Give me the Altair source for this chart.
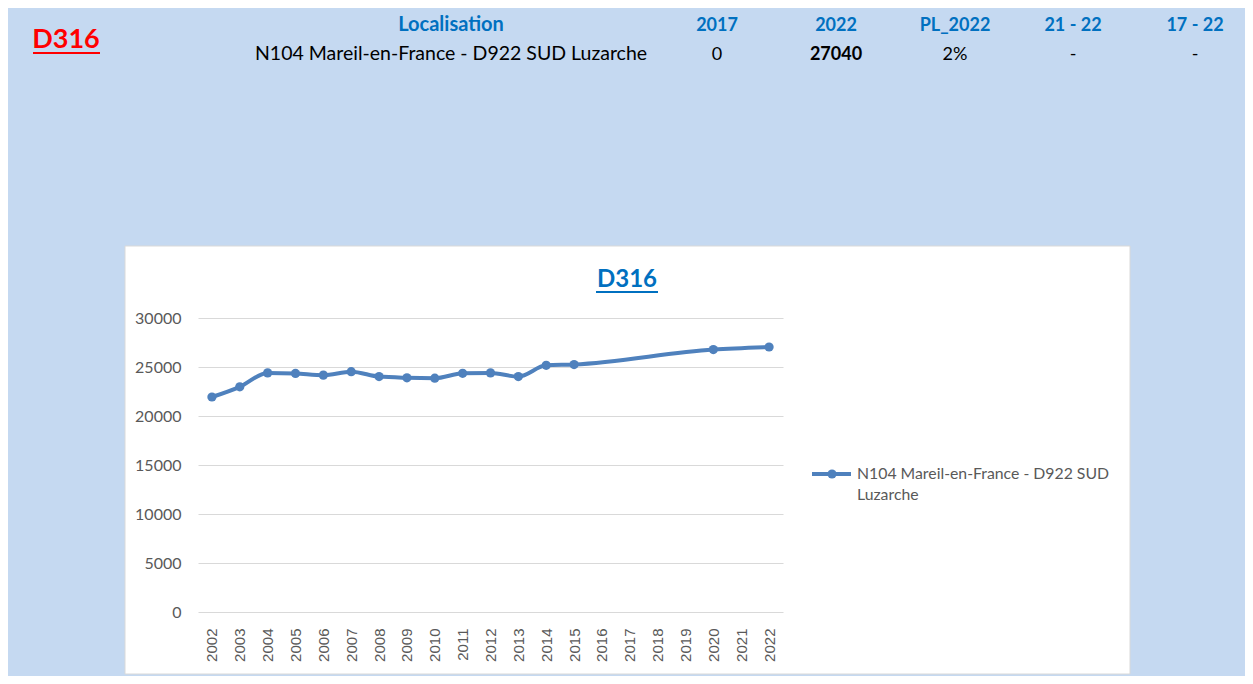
import altair as alt
import pandas as pd

# ---- data ----
years = [str(y) for y in range(2002, 2023)]
values = [21940, 22980, 24400, 24340, 24170, 24520, 24020,
          23900, 23860, 24360, 24400, 24020, 25170, 25250,
          None, None, None, None, 26780, None, 27040]
series_name = "N104 Mareil-en-France - D922 SUD Luzarche"
legend_lines = ["N104 Mareil-en-France - D922 SUD", "Luzarche"]
chart_title = "D316"
page_code = "D316"
header_labels = ["2017", "2022", "PL_2022", "21 - 22", "17 - 22"]
header_values = ["0", "27040", "2%", "-", "-"]
loc_label = "Localisation"
loc_value = series_name
y_ticks = [0, 5000, 10000, 15000, 20000, 25000, 30000]

rows = [{"year": y, "value": v, "serie": series_name}
        for y, v in zip(years, values) if v is not None]
df = pd.DataFrame(rows)

BLUE_LINE = "#4F81BD"
HEAD_BLUE = "#0070C0"
PAGE_BG = "#C5D9F1"
GRAY = "#595959"
FONT = "Lato"

x_enc = alt.X("year:O", scale=alt.Scale(domain=years, paddingOuter=0.5),
              axis=alt.Axis(title=None, labelAngle=270, labelFont="Liberation Sans",
                            labelFontSize=15, labelColor=GRAY, labelPadding=16,
                            ticks=False, domain=False, grid=False, labelAlign="right",
                            labelBaseline="middle"))
y_enc = alt.Y("value:Q", scale=alt.Scale(domain=[0, 30000], nice=False),
              axis=alt.Axis(title=None, values=y_ticks, format="d", labelFont=FONT,
                            labelFontSize=16, labelColor=GRAY, labelPadding=17,
                            ticks=False, domain=False,
                            grid=True, gridColor="#D9D9D9", gridWidth=1))

base = alt.Chart(df)

def rect(x1, x2, y1, y2, **kw):
    return alt.Chart(pd.DataFrame({"a": [0]})).mark_rect(**kw).encode(
        x=alt.value(x1), x2=alt.value(x2), y=alt.value(y1), y2=alt.value(y2))

# light-blue page around the white chart box
frame = [
    rect(-190, 1047, -310, -72, fill=PAGE_BG),
    rect(-190, 1047, 356, 358, fill=PAGE_BG),
    rect(-190, -73, -72, 356, fill=PAGE_BG),
    rect(932, 1047, -72, 356, fill=PAGE_BG),
    rect(-73, 932, -72, 356, filled=False, stroke="#D9D9D9", strokeWidth=1),
]

line = base.mark_line(color=BLUE_LINE, strokeWidth=4, interpolate="monotone").encode(
    x=x_enc, y=y_enc)
pts = base.mark_point(color=BLUE_LINE, filled=True, opacity=1, size=85).encode(
    x="year:O", y="value:Q")

def txt(s, x, y, size, color, weight="normal", align="center"):
    return alt.Chart(pd.DataFrame({"t": [s]})).mark_text(
        font=FONT, fontSize=size, color=color, fontWeight=weight, align=align,
        baseline="alphabetic").encode(text="t:N", x=alt.value(x), y=alt.value(y))

def uline(x1, x2, y, color, w):
    return alt.Chart(pd.DataFrame({"a": [0]})).mark_rule(color=color, strokeWidth=w).encode(
        x=alt.value(x1), x2=alt.value(x2), y=alt.value(y))

layers = [line, pts] + frame
# header
layers.append(txt(page_code, -132, -270, 27, "#FF0000", "bold"))
layers.append(uline(-165, -98, -265, "#FF0000", 2))
layers.append(txt(loc_label, 253, -287, 20, HEAD_BLUE, "bold"))
layers.append(txt(loc_value, 253, -258, 19.5, "#000000"))
col_x = [519, 638, 757, 875, 997]
for i, (lab, val) in enumerate(zip(header_labels, header_values)):
    layers.append(txt(lab, col_x[i], -287, 18, HEAD_BLUE, "bold"))
    layers.append(txt(val, col_x[i], -258, 18, "#000000", "bold" if i == 1 else "normal"))
# chart title
layers.append(txt(chart_title, 429, -31, 24, HEAD_BLUE, "bold"))
layers.append(uline(398, 460, -26, HEAD_BLUE, 2))
# legend
layers.append(uline(614, 653, 156, BLUE_LINE, 4))
layers.append(alt.Chart(pd.DataFrame({"a": [0]})).mark_point(color=BLUE_LINE, filled=True, opacity=1, size=85).encode(
    x=alt.value(634), y=alt.value(156)))
layers.append(txt(legend_lines[0], 659, 161, 15.8, GRAY, align="left"))
layers.append(txt(legend_lines[1], 659, 182, 15.8, GRAY, align="left"))

chart = alt.layer(*layers).properties(
    width=585, height=294,
    background="white",
    padding={"left": 190, "top": 310, "right": 462, "bottom": 64},
    autosize=alt.AutoSizeParams(type="none"),
).configure_view(stroke=None)

chart.save("out.html", embed_options={"renderer": "svg", "actions": False})
